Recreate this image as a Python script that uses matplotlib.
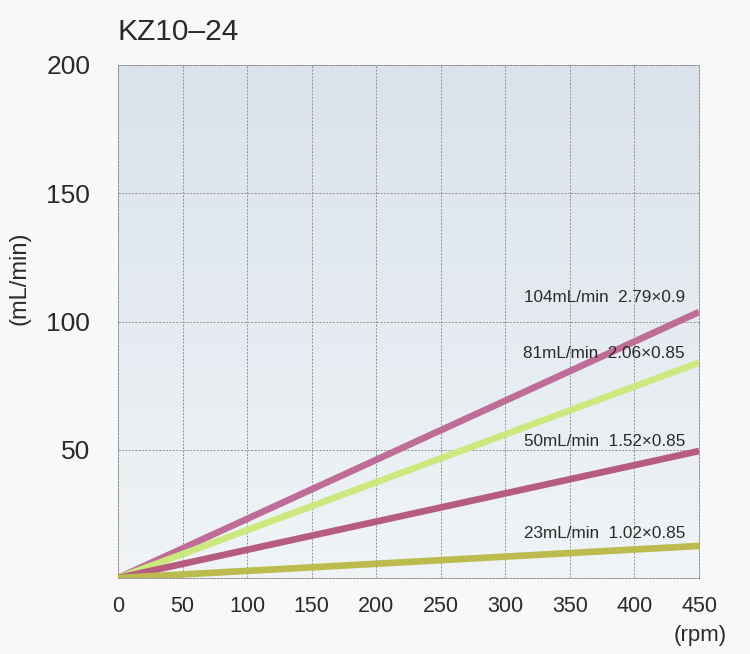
import numpy as np
import matplotlib
matplotlib.use("Agg")
import matplotlib.pyplot as plt
from matplotlib.colors import LinearSegmentedColormap

plt.rcParams['font.family'] = ['Liberation Sans', 'DejaVu Sans']

# data
rpm = [0, 450]
flow_104 = [0, 103.7]
flow_81 = [0, 84.0]
flow_50 = [0, 49.5]
flow_23 = [0, 12.5]
labels = ['104mL/min  2.79×0.9', '81mL/min  2.06×0.85',
          '50mL/min  1.52×0.85', '23mL/min  1.02×0.85']
label_y = [109.2, 87.7, 53.4, 17.5]
colors = ['#bd6d98', '#cde87f', '#b65c7e', '#bcbc4e']
xticks = np.arange(0, 451, 50)
yticks = [50, 100, 150, 200]

fig = plt.figure(figsize=(7.5, 6.54), dpi=100)
fig.patch.set_facecolor('#f7f8f7')
ax = fig.add_axes([118/750, 76/654, 581/750, 513/654])

# light bluish gradient background, darker at top
bg = LinearSegmentedColormap.from_list('bg', ['#f0f4f6', '#dae2eb'])
grad = np.linspace(0, 1, 256).reshape(-1, 1)
ax.imshow(grad, extent=[0, 450, 0, 200], origin='lower', aspect='auto',
          cmap=bg, zorder=0)

for series, c in zip([flow_104, flow_81, flow_50, flow_23], colors):
    ax.plot(rpm, series, color=c, lw=4.8, solid_capstyle='butt', zorder=3)

for txt, y in zip(labels, label_y):
    ax.text(439, y, txt, ha='right', va='center', fontsize=12.3,
            color='#2a2a2a', zorder=4)

ax.set_xlim(0, 450)
ax.set_ylim(0, 200)
ax.set_xticks(xticks)
ax.set_yticks(yticks)
ax.grid(True, ls=(0, (2, 1.5)), color='#909090', lw=0.7, zorder=1)
ax.set_axisbelow(False)
for sp in ax.spines.values():
    sp.set_linestyle((0, (2, 1.5)))
    sp.set_color('#909090')
    sp.set_linewidth(0.7)
ax.tick_params(length=0, colors='#2a2a2a')
ax.tick_params(axis='x', pad=13, labelsize=15.5)
ax.tick_params(axis='y', pad=20, labelsize=19)

fig.text(118/750, 1 - 32/654, 'KZ10–24', fontsize=21.5, color='#2a2a2a',
         va='center', ha='left')
fig.text(20/750, 1 - 278/654, '(mL/min)', fontsize=17, rotation=90,
         color='#2a2a2a', va='center', ha='center')
fig.text(700/750, 1 - 636/654, '(rpm)', fontsize=16, color='#2a2a2a',
         va='center', ha='center')

fig.savefig('out.png', dpi=100, facecolor=fig.get_facecolor())
